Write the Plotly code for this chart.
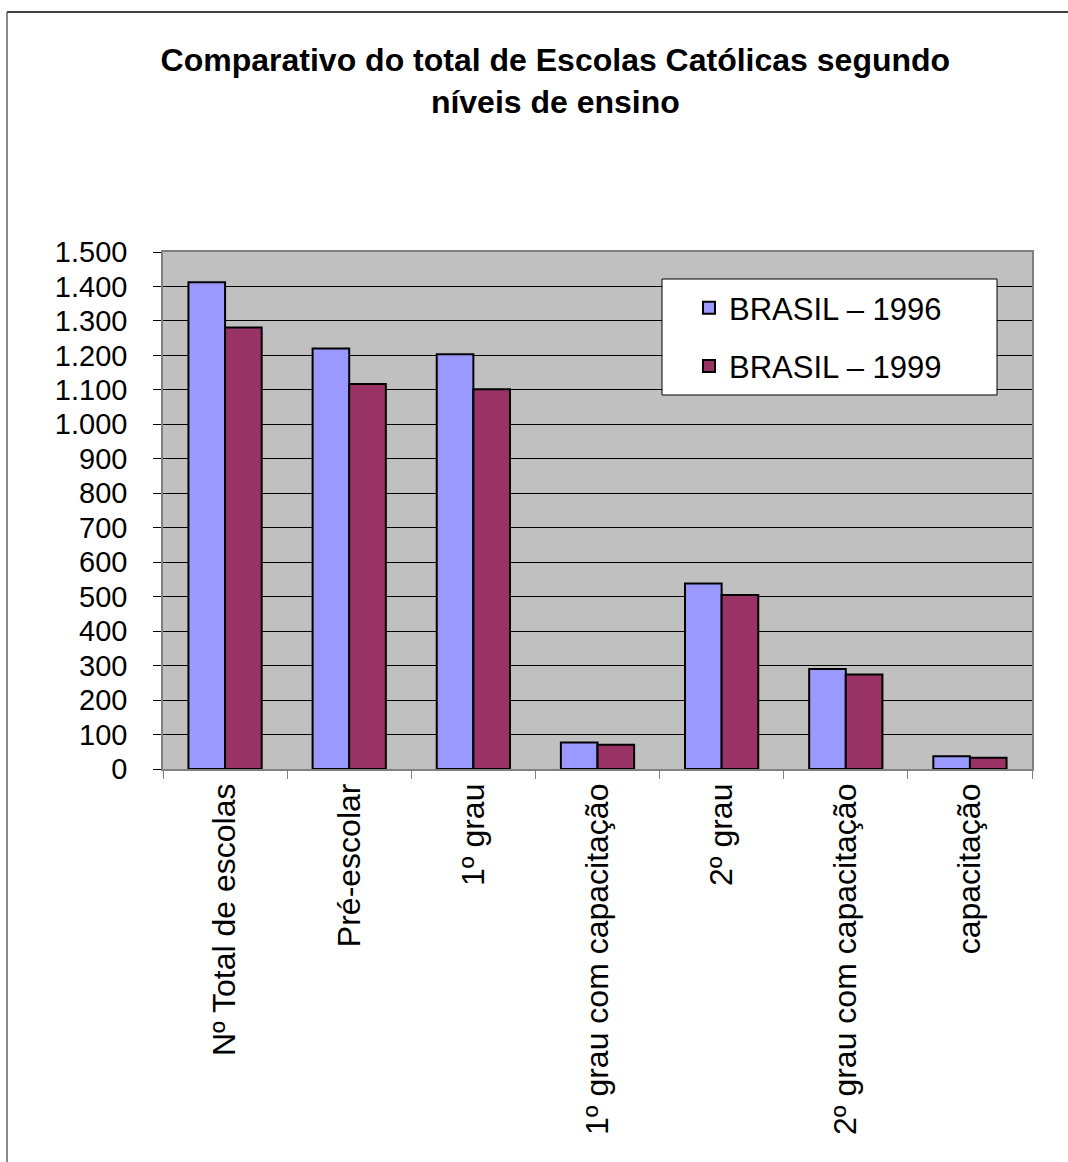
import plotly.graph_objects as go

categories = ["Nº Total de escolas", "Pré-escolar", "1º grau", "1º grau com capacitação",
              "2º grau", "2º grau com capacitação", "capacitação"]
brasil_1996 = [1412, 1220, 1203, 77, 538, 290, 37]
brasil_1999 = [1281, 1117, 1102, 70, 505, 274, 33]
series_names = ["BRASIL – 1996", "BRASIL – 1999"]
y_ticks = list(range(0, 1501, 100))

FONT = "Liberation Sans, Arial, sans-serif"

fig = go.Figure()
fig.add_trace(go.Bar(x=categories, y=brasil_1996, name=series_names[0], legendgroup="a",
                     marker=dict(color="#9999FF", line=dict(color="black", width=2))))
fig.add_trace(go.Bar(x=categories, y=brasil_1999, name=series_names[1], legendgroup="b",
                     marker=dict(color="#993366", line=dict(color="black", width=2))))

W, H = 1068, 1162
L, R, T, B = 163, 36, 252, 393
pw, ph = W - L - R, H - T - B

def px(x):
    return (x - L) / pw

def py(y):
    return (H - B - y) / ph

fig.update_layout(
    width=W, height=H,
    margin=dict(l=L, r=R, t=T, b=B, autoexpand=False),
    paper_bgcolor="white", plot_bgcolor="#C0C0C0",
    separators=",.",
    font=dict(family=FONT, color="black"),
    barmode="group", bargap=0.41, bargroupgap=0,
    title=dict(text="<b>Comparativo do total de Escolas Católicas segundo<br>níveis de ensino</b>",
               x=0.52, xanchor="center", y=1 - 71 / H, yanchor="top",
               font=dict(size=32, family=FONT, color="black")),
    showlegend=True,
    legend=dict(x=px(689), y=py(281), xanchor="left", yanchor="top",
                bgcolor="rgba(0,0,0,0)", borderwidth=0,
                font=dict(size=31, family=FONT, color="black"),
                traceorder="grouped", tracegroupgap=15, itemsizing="constant"),
    xaxis=dict(type="category", showgrid=False, tickangle=-90, ticks="outside", tickson="boundaries",
               ticklen=8, tickcolor="#808080", showline=True, linecolor="#808080", linewidth=1.5,
               mirror=True, tickfont=dict(size=32, family=FONT, color="black")),
    yaxis=dict(range=[0, 1500], tickvals=y_ticks, tickformat=",d", showgrid=True,
               gridcolor="black", gridwidth=1, zeroline=False, ticks="outside", ticklen=8,
               tickcolor="black", showline=True, linecolor="#808080", linewidth=1.5, mirror=True,
               ticklabelstandoff=20, tickfont=dict(size=29, family=FONT, color="black")),
    shapes=[
        dict(type="rect", xref="paper", yref="paper", x0=px(662), x1=px(997), y0=py(395), y1=py(279),
             fillcolor="white", line=dict(color="black", width=1), layer="above"),
        dict(type="line", xref="paper", yref="paper", x0=px(7), x1=px(1100), y0=py(12), y1=py(12),
             line=dict(color="black", width=1.5)),
        dict(type="line", xref="paper", yref="paper", x0=px(7), x1=px(7), y0=py(12), y1=py(1200),
             line=dict(color="#606060", width=1.5)),
    ],
)

fig.write_html("out.html", config={"displayModeBar": False},
               post_script="document.body.style.margin='0';document.body.style.overflow='hidden';")
